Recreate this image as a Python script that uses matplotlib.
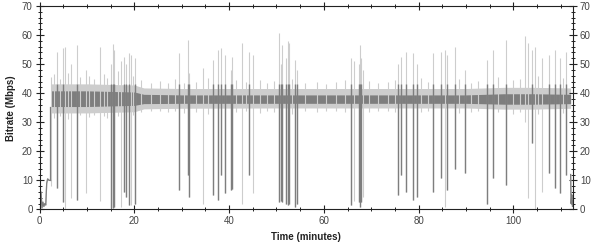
import numpy as np
import matplotlib
matplotlib.use("Agg")
import matplotlib.pyplot as plt
from matplotlib.ticker import MultipleLocator

plt.rcParams['font.family'] = ['Liberation Sans', 'DejaVu Sans']

# start-up segment before the stream settles (minutes, Mbps)
start_t = [0.0, 0.15, 0.3, 0.5, 0.7, 0.9, 1.1, 1.3, 1.5, 1.7, 2.0, 2.3]
start_v = [7.0, 1.0, 6.0, 0.5, 2.5, 1.0, 2.0, 1.5, 9.0, 10.5, 10.0, 10.0]

# tail segment after the stream ends
end_t = [112.1, 112.2, 112.35, 112.5, 112.6]
end_v = [12.0, 2.0, 5.0, 1.0, 3.0]

# steady-state band (envelopes of the two traces)
band_t = [2.3, 10, 20, 22, 30, 50, 70, 90, 98, 104, 112.1]
dark_lo = [35.4, 35.4, 35.8, 36.4, 36.5, 36.5, 36.5, 36.5, 36.2, 36.2, 36.4]
dark_hi = [40.8, 40.8, 40.4, 39.6, 39.4, 39.4, 39.4, 39.4, 39.8, 39.8, 39.6]
light_lo = [33.2, 33.2, 33.6, 34.6, 34.8, 34.9, 34.9, 34.9, 34.5, 34.5, 34.8]
light_hi = [43.2, 43.2, 42.8, 41.8, 41.6, 41.6, 41.6, 41.6, 42.0, 42.0, 41.8]

# small excursions around the band (light trace)
minor_t = [3.0, 4.3, 6.0, 8.6, 10.5, 11.5, 13.5, 14.3, 16.5, 19.8, 21.5,
           23.5, 25.5, 27.0, 28.5, 30.5, 33.0, 35.5, 41.5, 43.5, 46.5, 48.0,
           49.5, 53.3, 56.0, 58.5, 60.5, 62.5, 64.5, 69.5, 71.5, 73.5, 75.0,
           80.5, 82.0, 88.5, 91.0, 92.5, 96.8, 100.0, 101.5, 105.3, 110.5]
minor_lo = [31.5, 32.0, 31.0, 32.5, 31.8, 32.5, 32.0, 31.5, 32.2, 32.5, 33.5,
            33.8, 34.0, 33.5, 33.8, 33.2, 33.6, 33.0, 33.4, 33.8, 33.2, 33.8,
            33.5, 33.0, 34.0, 33.6, 33.8, 34.0, 33.4, 33.5, 33.8, 34.0, 33.6,
            33.4, 33.8, 33.2, 33.6, 33.8, 33.4, 33.0, 33.5, 32.8, 33.2]
minor_hi = [46.5, 45.0, 47.0, 45.5, 46.0, 44.8, 46.5, 45.2, 47.5, 45.8, 44.5,
            43.6, 44.2, 43.4, 44.8, 43.6, 44.0, 45.2, 44.6, 43.8, 44.6, 43.5,
            44.2, 45.0, 43.5, 44.0, 43.2, 43.8, 44.4, 44.2, 43.5, 43.8, 44.6,
            45.2, 44.0, 44.8, 43.6, 44.2, 45.5, 44.6, 45.0, 46.0, 45.2]

# bitrate spikes: time, lowest and highest value, whether the drop is in the dark trace
spike_t = [2.4, 3.7, 4.9, 5.4, 6.7, 7.9, 9.7, 12.7, 15.1, 15.4, 15.8, 17.2,
           17.8, 18.3, 18.8, 19.3, 20.2, 29.4, 31.3, 31.6, 34.5, 36.6, 37.7,
           38.2, 39.1, 40.4, 40.6, 42.8, 44.2, 45.1, 50.6, 50.9, 51.1, 52.1,
           52.4, 52.7, 54.0, 54.3, 65.8, 66.4, 67.4, 67.7, 67.9, 68.3, 75.6,
           76.2, 77.4, 78.8, 79.7, 83.0, 84.8, 85.5, 86.0, 87.6, 89.7, 94.4,
           95.7, 98.4, 102.4, 103.1, 104.0, 104.6, 106.0, 107.5, 108.8, 109.9,
           111.1]
spike_lo = [8.0, 7.2, 2.6, 0.3, 3.8, 3.2, 5.5, 3.0, 0.5, 0.5, 1.0, 1.0,
            6.0, 4.4, 1.5, 1.5, 2.0, 6.7, 12.0, 4.4, 2.0, 5.0, 3.2,
            12.0, 5.5, 6.7, 7.0, 2.0, 11.8, 5.5, 2.6, 3.0, 2.6, 2.0,
            1.5, 2.0, 0.9, 2.0, 1.5, 3.0, 2.6, 1.0, 2.6, 4.4, 5.0,
            12.0, 6.0, 3.2, 4.4, 6.0, 10.7, 1.0, 6.7, 14.0, 12.4, 2.0,
            10.7, 8.4, 30.0, 3.8, 22.7, 0.3, 6.0, 12.4, 7.2, 5.5,
            12.0]
spike_hi = [45.7, 54.0, 55.4, 56.0, 50.0, 56.6, 48.0, 56.0, 50.0, 57.0, 55.0, 51.0,
            52.6, 50.0, 53.7, 53.0, 52.0, 53.7, 58.3, 47.0, 48.6, 51.4, 54.9,
            55.5, 53.0, 48.0, 52.6, 57.2, 54.3, 53.0, 60.6, 50.0, 56.6, 52.0,
            57.8, 57.2, 51.4, 48.0, 52.0, 50.9, 50.0, 56.6, 52.0, 48.0, 50.0,
            52.6, 54.3, 53.7, 50.0, 53.7, 54.3, 54.9, 53.0, 56.0, 48.0, 51.4,
            54.9, 58.3, 59.5, 57.2, 55.0, 56.0, 52.0, 53.0, 54.9, 52.0,
            54.3]
spike_dark = [0, 1, 1, 0, 0, 1, 0, 0, 1, 1, 1, 0,
              1, 1, 1, 0, 1, 1, 1, 1, 0, 1, 1,
              1, 1, 1, 1, 0, 1, 0, 1, 1, 1, 1,
              1, 1, 1, 1, 1, 0, 1, 1, 1, 0, 1,
              1, 1, 1, 1, 1, 1, 0, 1, 1, 1, 1,
              1, 1, 0, 0, 1, 0, 0, 1, 1, 1,
              1]
dark_spike_top = 43.0

LIGHT = '#cdcdcd'
DARK = '#7e7e7e'

fig = plt.figure(figsize=(6.0, 2.49), dpi=100)
ax = fig.add_axes([0.066, 0.159, 0.889, 0.817])

spike_t = np.array(spike_t)
spike_lo = np.array(spike_lo)
spike_hi = np.array(spike_hi)
is_dark = np.array(spike_dark, dtype=bool)

# light trace
ax.fill_between(band_t, light_lo, light_hi, color=LIGHT, lw=0)
ax.vlines(minor_t, minor_lo, minor_hi, color=LIGHT, lw=0.8)
ax.vlines(spike_t, spike_lo, spike_hi, color=LIGHT, lw=0.8)
ax.plot(start_t, start_v, color=LIGHT, lw=0.9)
ax.plot(end_t, end_v, color=LIGHT, lw=0.9)

# dark trace
ax.fill_between(band_t, dark_lo, dark_hi, color=DARK, lw=0)
ax.vlines(spike_t[is_dark], spike_lo[is_dark], dark_spike_top, color=DARK, lw=1.0)
ax.plot(start_t, start_v, color=DARK, lw=0.9)
ax.plot([start_t[-1], band_t[0]], [start_v[-1], dark_lo[0]], color=DARK, lw=0.9)
ax.plot(end_t, end_v, color=DARK, lw=0.9)

ax.set_xlim(0, 112.6)
ax.set_ylim(0, 70)
ax.xaxis.set_major_locator(MultipleLocator(20))
ax.xaxis.set_minor_locator(MultipleLocator(5))
ax.yaxis.set_major_locator(MultipleLocator(10))
ax.yaxis.set_minor_locator(MultipleLocator(2))
ax.tick_params(which='both', direction='inout', top=True, right=True,
               labelright=True, labelsize=7, labelcolor='#444444', color='#222222')
ax.tick_params(which='major', length=6, width=0.8, pad=2)
ax.tick_params(which='minor', length=3.5, width=0.7)
for sp in ax.spines.values():
    sp.set_color('#222222')
    sp.set_linewidth(0.8)

ax.set_xlabel('Time (minutes)', fontsize=7, fontweight='bold', color='#222222', labelpad=4)
ax.set_ylabel('Bitrate (Mbps)', fontsize=7, fontweight='bold', color='#222222', labelpad=4)

fig.savefig('out.png', dpi=100)
plt.close(fig)
